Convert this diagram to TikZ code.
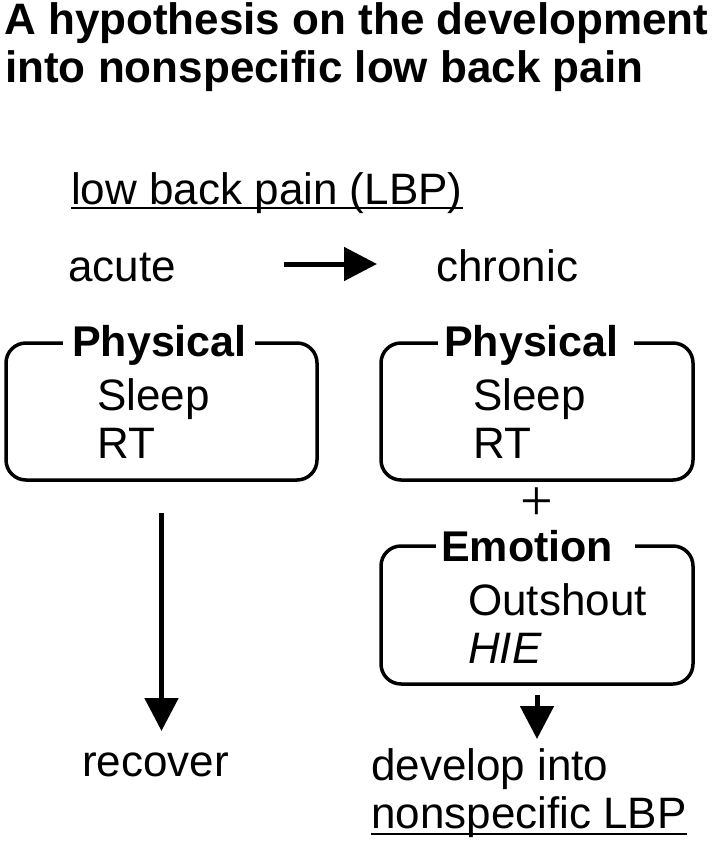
\documentclass[tikz,border=0pt]{standalone}
\usepackage{fontspec}
\setmainfont{Liberation Sans}
\newfontfamily\plusfont{Liberation Serif}
\usetikzlibrary{arrows.meta}
\begin{document}
\begin{tikzpicture}[x=1pt,y=-1pt,
  txt/.style={anchor=base west, inner sep=0pt, font=\fontsize{44}{48}\selectfont},
  ttl/.style={anchor=base west, inner sep=0pt, font=\fontsize{44}{48}\selectfont\bfseries},
  hdr/.style={anchor=base west, inner sep=0pt, fill=white, font=\fontsize{43}{48}\selectfont\bfseries},
  roundbox/.style={draw, line width=3.5pt, rounded corners=20pt, inner sep=0pt},
  arr/.style={line width=5pt, -{Triangle[width=33pt,length=33pt]}},
  uline/.style={line width=2.8pt}]
\useasboundingbox (0,0) rectangle (712,843);
\node[ttl] (t1) at (4,35) {A hypothesis on the development};
\node[ttl] (t2) at (5,82) {into nonspecific low back pain};
\node[txt] (lbp) at (71,204) {low back pain (LBP)};
\draw[uline] ([yshift=-4pt]lbp.base west) -- ([yshift=-4pt]lbp.base east);
\node[txt] (acute) at (68,281) {acute};
\node[txt] (chronic) at (436,281) {chronic};
\coordinate (aS) at (284,264);
\coordinate (aE) at (377,264);
\draw[arr] (aS) -- (aE);
% boxes
\node[roundbox, minimum width=311pt, minimum height=137pt] (boxL) at (161.5,411.5) {};
\node[roundbox, minimum width=312pt, minimum height=137pt] (boxR) at (537,411.5) {};
\node[roundbox, minimum width=312pt, minimum height=138pt] (boxE) at (537,615) {};
% headers
\node[hdr] (hL) at (63,356) {\hspace{9pt}Physical\hspace{8pt}\null};
\node[hdr] (hR) at (438,356) {\hspace{6pt}Physical\hspace{15pt}\null};
\node[hdr] (hE) at (436,561) {\hspace{5pt}Emotion\hspace{22pt}\null};
% contents
\node[txt] (sL) at (97,410) {Sleep};
\node[txt] (rL) at (97,458) {RT};
\node[txt] (sR) at (473,410) {Sleep};
\node[txt] (rR) at (473,458) {RT};
\node[anchor=base, inner sep=0pt, text height=30pt, text depth=0pt, font=\fontsize{58}{58}\selectfont\plusfont] (plus) at (537,520) {+};
\node[txt] (out) at (468,615) {Outshout};
\node[txt, font=\fontsize{44}{48}\selectfont\itshape] (hie) at (468,663) {HIE};
\node[txt] (rec) at (82,776) {recover};
\node[txt] (dev) at (371,780) {develop into};
\node[txt] (nsp) at (371,828) {nonspecific LBP};
\draw[uline] ([yshift=-6pt]nsp.base west) -- ([yshift=-6pt]nsp.base east);
% arrows
\coordinate (tipL) at (161.5,731);
\draw[arr] ([yshift=-31pt]boxL.south) -- (tipL);
\coordinate (tipR) at (537,739);
\draw[arr] ([yshift=-9pt]boxE.south) -- (tipR);
\end{tikzpicture}
\end{document}
